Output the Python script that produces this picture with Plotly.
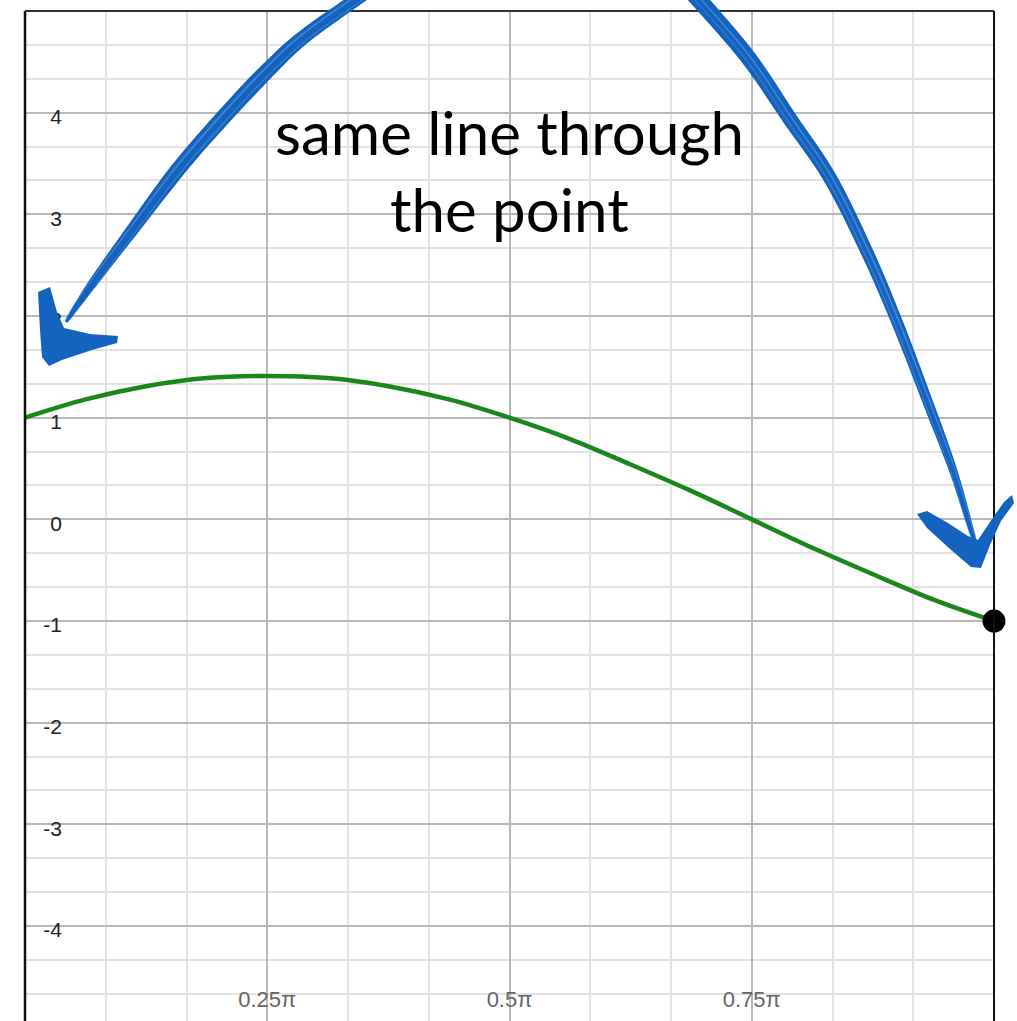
import math
import plotly.graph_objects as go

# ---- data: the green curve sampled every pi/16 on [0, pi] ----
x_frac_pi = [0.0, 0.0625, 0.125, 0.1875, 0.25, 0.3125, 0.375, 0.4375, 0.5,
             0.5625, 0.625, 0.6875, 0.75, 0.8125, 0.875, 0.9375, 1.0]
y_values = [1.00, 1.18, 1.31, 1.39, 1.41, 1.39, 1.31, 1.18, 1.00,
            0.79, 0.54, 0.28, 0.00, -0.28, -0.54, -0.79, -1.00]

# highlighted point at the end of the curve
point_x_frac_pi = [1.0]
point_y = [-1.0]

# axis ticks
x_tick_frac_pi = [0.25, 0.5, 0.75]
x_tick_text = ["0.25π", "0.5π", "0.75π"]
y_tick_vals = [-4, -3, -2, -1, 0, 1, 2, 3, 4]
y_tick_text = ["-4", "-3", "-2", "-1", "0", "1", "2", "3", "4"]

note_lines = ["same line through", "the point"]

# ---- figure geometry (pixels) ----
W, H = 1017, 1021
ML, MR, MT, MB = 25, 23, 11, 0
PW, PH = W - ML - MR, H - MT - MB
Y_TOP = 5.0
Y_BOT = Y_TOP - PH / 101.67


def to_paper(px, py):
    return (px - ML) / PW, 1 - (py - MT) / PH


fig = go.Figure()

fig.add_trace(go.Scatter(
    x=[f * math.pi for f in x_frac_pi], y=y_values,
    mode="lines", line=dict(color="#1a871a", width=4.5, shape="spline", smoothing=1.0),
    hoverinfo="skip", showlegend=False, cliponaxis=False,
))
fig.add_trace(go.Scatter(
    x=[f * math.pi for f in point_x_frac_pi], y=point_y,
    mode="markers", marker=dict(color="black", size=23),
    showlegend=False, cliponaxis=False,
))

MAJOR_GRID = "#b8b8b8"
MINOR_GRID = "#e2e2e2"
TICK_FONT = "Liberation Sans, Arial, sans-serif"

fig.update_layout(
    width=W, height=H,
    margin=dict(l=ML, r=MR, t=MT, b=MB, pad=0),
    paper_bgcolor="white", plot_bgcolor="white",
    xaxis=dict(
        range=[0, math.pi], anchor="free", position=to_paper(0, 984)[1],
        tickmode="array", tickvals=[f * math.pi for f in x_tick_frac_pi], ticktext=x_tick_text,
        tickfont=dict(family=TICK_FONT, size=22, color="#666666"),
        showgrid=True, gridcolor=MAJOR_GRID, gridwidth=1.5,
        minor=dict(tickmode="linear", tick0=0, dtick=math.pi / 12, showgrid=True,
                   gridcolor=MINOR_GRID, gridwidth=1.5, ticks=""),
        zeroline=False, showline=False, ticks="", fixedrange=True,
    ),
    yaxis=dict(
        range=[Y_BOT, Y_TOP], anchor="free", position=to_paper(62, 0)[0], side="left",
        tickmode="array", tickvals=y_tick_vals, ticktext=y_tick_text,
        tickfont=dict(family=TICK_FONT, size=21, color="#222222"),
        ticklabelshift=4,
        showgrid=True, gridcolor=MAJOR_GRID, gridwidth=1.5,
        minor=dict(tickmode="linear", tick0=0, dtick=1 / 3, showgrid=True,
                   gridcolor=MINOR_GRID, gridwidth=1.5, ticks=""),
        zeroline=False, showline=False, ticks="", fixedrange=True,
    ),
)

# frame on the left, top and right
frame = dict(type="line", xref="paper", yref="paper", layer="above")
fig.add_shape(**frame, x0=0, y0=0, x1=0, y1=1, line=dict(color="#111111", width=2.5))
fig.add_shape(**frame, x0=0, y0=1, x1=1, y1=1, line=dict(color="#333333", width=2))
fig.add_shape(**frame, x0=1, y0=0, x1=1, y1=1, line=dict(color="#111111", width=2))

# ---- hand-drawn blue arrows ----
BLUE = "#1363bf"
LIGHT_BLUE = "#7eaee6"


def catmull_rom(pts, steps=24):
    out = []
    ext = [pts[0]] + pts + [pts[-1]]
    for i in range(1, len(ext) - 2):
        p0, p1, p2, p3 = ext[i - 1], ext[i], ext[i + 1], ext[i + 2]
        for s in range(steps):
            t = s / steps
            t2, t3 = t * t, t * t * t
            out.append(tuple(
                0.5 * (2 * p1[k] + (-p0[k] + p2[k]) * t
                       + (2 * p0[k] - 5 * p1[k] + 4 * p2[k] - p3[k]) * t2
                       + (-p0[k] + 3 * p1[k] - 3 * p2[k] + p3[k]) * t3)
                for k in range(2)))
    out.append(tuple(pts[-1]))
    return out


def width_at(t, profile):
    for (t0, w0), (t1, w1) in zip(profile, profile[1:]):
        if t0 <= t <= t1:
            return w0 + (w1 - w0) * (t - t0) / (t1 - t0)
    return profile[-1][1]


def stroke_path(guide, profile, shift=0.0):
    pts = catmull_rom(guide)
    n = len(pts)
    left, right = [], []
    for i, (x, y) in enumerate(pts):
        a = pts[max(i - 1, 0)]
        b = pts[min(i + 1, n - 1)]
        dx, dy = b[0] - a[0], b[1] - a[1]
        d = math.hypot(dx, dy) or 1.0
        nx, ny = -dy / d, dx / d
        w = width_at(i / (n - 1), profile) / 2
        cx, cy = x + nx * shift, y + ny * shift
        left.append((cx + nx * w, cy + ny * w))
        right.append((cx - nx * w, cy - ny * w))
    return polygon_path(left + right[::-1])


def polygon_path(poly):
    coords = [to_paper(x, y) for x, y in poly]
    return "M " + " L ".join(f"{x:.5f},{y:.5f}" for x, y in coords) + " Z"


def add_blob(path, color=BLUE, opacity=1.0):
    fig.add_shape(type="path", xref="paper", yref="paper", path=path,
                  fillcolor=color, opacity=opacity, line=dict(width=0), layer="above")


left_guide = [(364, -6), (305, 36), (270, 68), (230, 110), (180, 167),
              (130, 233), (90, 287), (66, 322)]
right_guide = [(692, -8), (747, 56), (790, 119), (830, 178), (867, 252),
               (897, 322), (927, 400), (953, 470), (970, 526), (976, 545)]

add_blob(stroke_path(left_guide, [(0, 13), (0.35, 16), (0.6, 15), (0.85, 9), (1, 3)]))
add_blob(stroke_path(left_guide, [(0, 1.5), (0.5, 2), (1, 0.5)], shift=3), color=LIGHT_BLUE, opacity=0.45)
add_blob(stroke_path(left_guide, [(0, 1), (0.5, 1.5), (1, 0.5)], shift=-4), color=LIGHT_BLUE, opacity=0.35)
add_blob(stroke_path(right_guide, [(0, 17), (0.3, 14), (0.7, 10), (0.92, 5), (1, 2)]))
add_blob(stroke_path(right_guide, [(0, 1.5), (0.5, 2), (1, 0.5)], shift=-2), color=LIGHT_BLUE, opacity=0.45)
add_blob(stroke_path(right_guide, [(0, 1), (0.5, 1.5), (1, 0.5)], shift=3), color=LIGHT_BLUE, opacity=0.35)

left_head = [(38, 292), (50, 287), (57, 312), (64, 328), (90, 334), (118, 336),
             (117, 343), (92, 350), (62, 360), (49, 366), (42, 357), (40, 330)]
right_head = [(917, 514), (927, 511), (948, 523), (968, 536), (978, 540), (990, 522),
              (1004, 502), (1012, 495), (1014, 503), (1001, 521), (990, 545), (981, 568),
              (971, 567), (950, 549), (927, 528)]
add_blob(polygon_path(left_head))
add_blob(polygon_path(right_head))

# ---- note text ----
note_font = dict(family="Lato, 'Open Sans', sans-serif", size=60, color="black")
for line, cy in zip(note_lines, [132, 209]):
    px, py = to_paper(510, cy)
    fig.add_annotation(x=px, y=py, xref="paper", yref="paper", text=line,
                       showarrow=False, xanchor="center", yanchor="middle", font=note_font)

fig.write_html("out.html")
